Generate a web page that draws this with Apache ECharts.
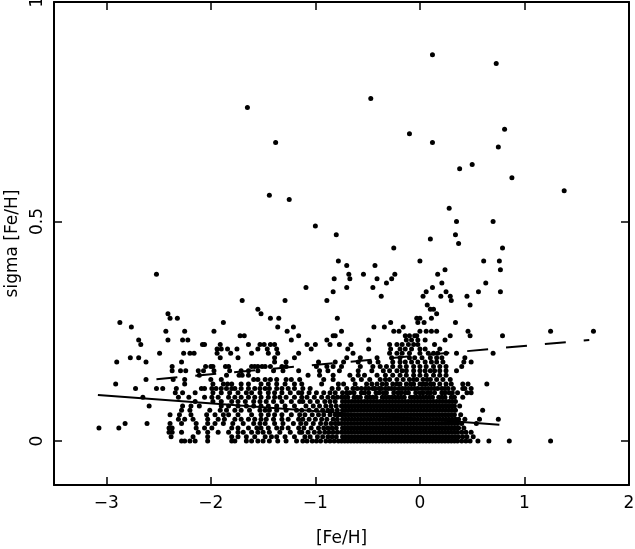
<!DOCTYPE html>
<html>
<head>
<meta charset="utf-8">
<script src="https://cdn.jsdelivr.net/npm/echarts@6/dist/echarts.min.js"></script>
<style>
html, body { margin: 0; padding: 0; background: #fff; }
#chart { width: 635px; height: 549px; }
</style>
</head>
<body>
<div id="chart"></div>
<script>
// tick labels
const xTicks = [-3, -2, -1, 0, 1, 2]
const yTicks = [0, 0.5, 1]

// sigma [Fe/H] comes in steps of 0.01, so the bulk of the stars is kept row by row:
// sigmaLevels[i] is the sigma of every [Fe/H] value in fehRows[i]
const sigmaLevels = [0.00, 0.01, 0.02, 0.03, 0.04, 0.05, 0.06, 0.07, 0.08, 0.09, 0.10,
    0.11, 0.12, 0.13, 0.14, 0.15, 0.16, 0.17, 0.18, 0.19, 0.20, 0.21, 0.22, 0.23, 0.24,
    0.25, 0.26, 0.27, 0.28, 0.29, 0.30, 0.31]

const fehRows = [
    // 0.00
    [-2.28, -2.25, -2.20, -2.15, -2.03, -1.80, -1.77, -1.66, -1.61, -1.55, -1.50, -1.44, -1.36, -1.28, -1.18,
        -1.12, -1.08, -1.03, -0.99, -0.95, -0.90, -0.86, -0.82, -0.78,
        -0.75, -0.72, -0.69, -0.66, -0.63, -0.60, -0.57, -0.54, -0.51, -0.48, -0.45, -0.42, -0.39, -0.36, -0.33,
        -0.30, -0.27, -0.24, -0.21, -0.18, -0.15, -0.12, -0.09, -0.06, -0.03, 0.00, 0.03, 0.06, 0.09, 0.12,
        0.15, 0.18, 0.21, 0.24, 0.27, 0.30, 0.33, 0.36, 0.40, 0.44, 0.48, 0.555, 0.66, 0.855, 1.25],
    // 0.01
    [-2.38, -2.17, -2.03, -1.80, -1.74, -1.66, -1.58, -1.48, -1.42, -1.37, -1.29, -1.20,
        -1.10, -1.05, -0.98, -0.93, -0.88, -0.84, -0.80,
        -0.74, -0.71, -0.68, -0.65, -0.62, -0.59, -0.56, -0.53, -0.50, -0.47, -0.44, -0.41, -0.38, -0.35, -0.32,
        -0.29, -0.26, -0.23, -0.20, -0.17, -0.14, -0.11, -0.08, -0.05, -0.02, 0.01, 0.04, 0.07, 0.10, 0.13,
        0.16, 0.19, 0.22, 0.25, 0.28, 0.31, 0.34, 0.37, 0.41, 0.45, 0.51],
    // 0.02
    [-2.40, -2.37, -2.28, -2.12, -2.03, -1.93, -1.83, -1.74, -1.69, -1.61, -1.55, -1.50, -1.44, -1.34, -1.24, -1.15,
        -1.13, -1.07, -1.01, -0.96, -0.91, -0.87, -0.83, -0.79,
        -0.75, -0.72, -0.69, -0.66, -0.63, -0.60, -0.57, -0.54, -0.51, -0.48, -0.45, -0.42, -0.39, -0.36, -0.33,
        -0.30, -0.27, -0.24, -0.21, -0.18, -0.15, -0.12, -0.09, -0.06, -0.03, 0.00, 0.03, 0.06, 0.09, 0.12,
        0.15, 0.18, 0.21, 0.24, 0.27, 0.30, 0.33, 0.36, 0.40, 0.44, 0.49],
    // 0.03
    [-3.07, -2.88, -2.40, -2.37, -2.14, -2.06, -1.99, -1.80, -1.74, -1.64, -1.56, -1.52, -1.45, -1.37, -1.32, -1.26, -1.16,
        -1.11, -1.04, -0.97, -0.92, -0.88, -0.84, -0.80,
        -0.74, -0.71, -0.68, -0.65, -0.62, -0.59, -0.56, -0.53, -0.50, -0.47, -0.44, -0.41, -0.38, -0.35, -0.32,
        -0.29, -0.26, -0.23, -0.20, -0.17, -0.14, -0.11, -0.08, -0.05, -0.02, 0.01, 0.04, 0.07, 0.10, 0.13,
        0.16, 0.19, 0.22, 0.25, 0.28, 0.31, 0.34, 0.37, 0.42],
    // 0.04
    [-2.82, -2.61, -2.39, -2.28, -2.14, -2.03, -1.96, -1.88, -1.79, -1.69, -1.59, -1.53, -1.48, -1.39, -1.31, -1.21,
        -1.14, -1.09, -1.02, -0.95, -0.90, -0.85, -0.81, -0.78,
        -0.75, -0.72, -0.69, -0.66, -0.63, -0.60, -0.57, -0.54, -0.51, -0.48, -0.45, -0.42, -0.39, -0.36, -0.33,
        -0.30, -0.27, -0.24, -0.21, -0.18, -0.15, -0.12, -0.09, -0.06, -0.03, 0.00, 0.03, 0.06, 0.09, 0.12,
        0.15, 0.18, 0.21, 0.24, 0.27, 0.30, 0.33, 0.36, 0.40, 0.54],
    // 0.05
    [-2.31, -2.25, -2.17, -2.03, -1.93, -1.87, -1.77, -1.71, -1.64, -1.58, -1.52, -1.47, -1.40, -1.32, -1.26, -1.16,
        -1.12, -1.06, -1.00, -0.94, -0.89, -0.83, -0.79,
        -0.74, -0.71, -0.68, -0.65, -0.62, -0.59, -0.56, -0.53, -0.50, -0.47, -0.44, -0.41, -0.38, -0.35, -0.32,
        -0.29, -0.26, -0.23, -0.20, -0.17, -0.14, -0.11, -0.08, -0.05, -0.02, 0.01, 0.04, 0.07, 0.10, 0.13,
        0.16, 0.19, 0.22, 0.25, 0.28, 0.31, 0.34, 0.37, 0.43, 0.57, 0.75],
    // 0.06
    [-2.39, -2.30, -2.19, -2.04, -1.96, -1.88, -1.83, -1.74, -1.61, -1.52, -1.45, -1.39, -1.32, -1.23, -1.15,
        -1.10, -1.03, -0.97, -0.92, -0.86, -0.81, -0.78,
        -0.75, -0.72, -0.69, -0.66, -0.63, -0.60, -0.57, -0.54, -0.51, -0.48, -0.45, -0.42, -0.39, -0.36, -0.33,
        -0.30, -0.27, -0.24, -0.21, -0.18, -0.15, -0.12, -0.09, -0.06, -0.03, 0.00, 0.03, 0.06, 0.09, 0.12,
        0.15, 0.18, 0.21, 0.24, 0.27, 0.30, 0.33, 0.39],
    // 0.07
    [-2.28, -2.20, -2.01, -1.91, -1.85, -1.77, -1.71, -1.63, -1.53, -1.48, -1.44, -1.37, -1.28, -1.18,
        -1.13, -1.06, -0.99, -0.93, -0.88, -0.84, -0.79,
        -0.74, -0.71, -0.68, -0.65, -0.62, -0.59, -0.56, -0.53, -0.50, -0.47, -0.44, -0.41, -0.38, -0.35, -0.32,
        -0.29, -0.26, -0.23, -0.20, -0.17, -0.14, -0.11, -0.08, -0.05, -0.02, 0.01, 0.04, 0.07, 0.10, 0.13,
        0.16, 0.19, 0.22, 0.25, 0.28, 0.31, 0.34, 0.60],
    // 0.08
    [-2.59, -2.27, -2.19, -2.11, -1.90, -1.83, -1.74, -1.66, -1.59, -1.52, -1.45, -1.37, -1.29, -1.20,
        -1.09, -1.02, -0.96, -0.90, -0.85, -0.80,
        -0.75, -0.72, -0.69, -0.66, -0.63, -0.60, -0.57, -0.54, -0.51, -0.48, -0.45, -0.42, -0.39, -0.36, -0.33,
        -0.30, -0.27, -0.24, -0.21, -0.18, -0.15, -0.12, -0.09, -0.06, -0.03, 0.00, 0.03, 0.06, 0.09, 0.12,
        0.15, 0.18, 0.21, 0.24, 0.27, 0.30, 0.33, 0.38],
    // 0.09
    [-2.15, -1.98, -1.90, -1.80, -1.74, -1.67, -1.59, -1.53, -1.47, -1.40, -1.32, -1.23, -1.15,
        -1.12, -1.05, -0.98, -0.91, -0.86, -0.81,
        -0.74, -0.71, -0.68, -0.65, -0.62, -0.59, -0.56, -0.53, -0.50, -0.47, -0.44, -0.41, -0.38, -0.35, -0.32,
        -0.29, -0.26, -0.23, -0.20, -0.17, -0.14, -0.11, -0.08, -0.05, -0.02, 0.01, 0.04, 0.07, 0.10, 0.13,
        0.16, 0.19, 0.22, 0.25, 0.28, 0.31, 0.34],
    // 0.10
    [-2.65, -2.31, -2.21, -2.06, -1.99, -1.93, -1.83, -1.77, -1.71, -1.64, -1.58, -1.52, -1.45, -1.39, -1.34, -1.28, -1.20, -1.13,
        -1.08, -1.01, -0.94, -0.88, -0.83, -0.79,
        -0.75, -0.72, -0.69, -0.63, -0.60, -0.57, -0.51, -0.48, -0.45, -0.42, -0.36, -0.33,
        -0.30, -0.27, -0.24, -0.21, -0.18, -0.15, -0.09, -0.06, -0.03, 0.00, 0.03, 0.06, 0.09, 0.12,
        0.18, 0.21, 0.24, 0.30, 0.33, 0.41],
    // 0.11
    [-2.34, -2.27, -2.15, -1.98, -1.90, -1.82, -1.74, -1.66, -1.61, -1.53, -1.45, -1.39, -1.32, -1.24, -1.16,
        -1.13, -1.06, -0.99, -0.92, -0.86, -0.81,
        -0.74, -0.70, -0.67, -0.63, -0.56, -0.53, -0.49, -0.42, -0.39, -0.35, -0.32, -0.25,
        -0.21, -0.18, -0.14, -0.11, -0.04, 0.00, 0.03, 0.07, 0.10, 0.14, 0.21, 0.24, 0.28, 0.31,
        0.36, 0.45, 0.49],
    // 0.12
    [-2.72, -2.52, -2.46, -2.33, -2.09, -2.06, -1.99, -1.95, -1.90, -1.85, -1.80, -1.77, -1.71, -1.64, -1.58, -1.53,
        -1.48, -1.44, -1.37, -1.32, -1.26, -1.20,
        -1.12, -1.05, -0.84, -0.78, -0.70, -0.64, -0.60, -0.56, -0.52, -0.49, -0.45, -0.43, -0.39, -0.37, -0.33,
        -0.30, -0.27, -0.24, -0.20, -0.17, -0.14, -0.11, -0.08, -0.05, -0.02, 0.02, 0.05, 0.08, 0.11, 0.14,
        0.17, 0.21, 0.24, 0.27, 0.32, 0.41, 0.43, 0.49],
    // 0.13
    [-2.91, -2.25, -1.98, -1.88, -1.84, -1.80, -1.71, -1.64, -1.52, -1.45, -1.37, -1.29, -1.20,
        -1.13, -0.94, -0.78, -0.73, -0.62, -0.51, -0.46, -0.41, -0.36, -0.32, -0.26, -0.22, -0.19, -0.13,
        -0.09, -0.06, 0.00, 0.03, 0.06, 0.10, 0.13, 0.19, 0.25, 0.30, 0.41, 0.46, 0.64],
    // 0.14
    [-2.62, -2.36, -2.25, -2.00, -1.90, -1.59, -1.55, -1.48, -1.43, -1.37, -1.28, -1.23, -1.15,
        -0.92, -0.83, -0.64, -0.56, -0.48, -0.38, -0.33, -0.29, -0.22, -0.16, -0.10, -0.06, -0.03,
        0.03, 0.07, 0.10, 0.16, 0.22, 0.29],
    // 0.15
    [-2.11, -1.85, -1.73, -1.70, -1.64,
        -1.07, -0.96, -0.83, -0.67, -0.59, -0.53, -0.41, -0.33, -0.26, -0.19, -0.13, -0.06, 0.00, 0.06,
        0.13, 0.19, 0.25],
    // 0.16
    [-2.37, -2.29, -2.24, -2.12, -2.07, -1.97, -1.82, -1.71, -1.64, -1.55, -1.40, -1.31, -1.16,
        -0.96, -0.88, -0.77, -0.59, -0.46, -0.35, -0.29, -0.22, -0.17, -0.13, -0.06, 0.00, 0.05, 0.10,
        0.14, 0.19, 0.25, 0.35],
    // 0.17
    [-2.37, -2.05, -2.00, -1.98, -1.86, -1.83, -1.61, -1.58, -1.55, -1.51, -1.48, -1.43, -1.32, -1.28,
        -0.99, -0.89, -0.83, -0.75, -0.57, -0.45, -0.38, -0.32, -0.26, -0.19, -0.13, -0.06, 0.00, 0.06,
        0.13, 0.19, 0.25, 0.40],
    // 0.18
    [-2.90, -2.62, -2.28, -1.39, -1.28,
        -0.97, -0.81, -0.73, -0.59, -0.48, -0.40, -0.26, -0.19, -0.14, -0.08, -0.02, 0.05, 0.11, 0.16,
        0.22, 0.42, 0.49],
    // 0.19
    [-2.77, -2.69, -1.91, -1.74, -1.39, -1.20,
        -0.70, -0.57, -0.41, -0.27, -0.19, -0.10, -0.05, 0.02, 0.10, 0.16, 0.21, 0.43],
    // 0.20
    [-2.49, -2.26, -2.20, -2.16, -1.94, -1.81, -1.61, -1.45, -1.36, -1.16,
        -0.64, -0.29, -0.22, -0.17, -0.10, 0.00, 0.08, 0.13, 0.17, 0.25, 0.35, 0.70],
    // 0.21
    [-1.94, -1.90, -1.84, -1.75, -1.55, -1.46, -1.37,
        -1.04, -0.69, -0.49, -0.28, -0.19, -0.14, -0.08, 0.00, 0.05, 0.19],
    // 0.22
    [-2.67, -2.08, -2.06, -1.91, -1.64, -1.53, -1.49, -1.43, -1.39,
        -1.08, -1.00, -0.86, -0.77, -0.66, -0.29, -0.22, -0.17, -0.11, -0.06, -0.02, 0.14],
    // 0.23
    [-2.69, -2.41, -2.27, -2.22, -1.23, -0.89, -0.49, -0.13, -0.08, -0.02, 0.05, 0.24],
    // 0.24
    [-1.72, -1.68, -1.16, -0.83, -0.81, -0.14, -0.10, -0.05, -0.03, 0.29, 0.48, 0.79],
    // 0.25
    [-2.43, -2.25, -1.97, -1.27, -0.75, -0.25, -0.20, 0.00, 0.06, 0.11, 0.16, 0.46, 1.25, 1.66],
    // 0.26
    [-2.76, -1.36, -1.21, -0.44, -0.34, -0.16],
    // 0.27
    [-2.87, -1.88, -0.28, -0.02, 0.04, 0.34],
    // 0.28
    [-2.39, -2.32, -1.43, -1.35, -0.79, -0.03, 0.00, 0.11],
    // 0.29
    [-2.41, -1.52, 0.16],
    // 0.30
    [-1.55, 0.10, 0.13],
    // 0.31
    [0.07, 0.48]
]

// the sparse stars above the band
const outlierFeH = [-1.70, -1.29, -0.89, 0.30, -0.37, 0.03, 0.20, 0.29, 0.45, -0.83, 0.06, 0.25, 0.56, 0.77,
    -1.09, -0.70, -0.45, 0.12, -0.32, 0.21, 0.63, -0.82, -0.67, -0.41, -0.27, -0.68, -0.54, -0.24, 0.17,
    -2.52, 0.24, 0.77, -0.70, -0.43, 0.00, -0.78, 0.61, 0.76, -0.25, 0.79, 0.37, 0.10, -0.80, 0.34, -1.00,
    0.35, 0.70, 0.28, -1.25, -1.44, 1.38, 0.88, 0.38, 0.50, -1.38, 0.12, 0.75, -0.10, 0.81, -1.65, -0.47,
    0.73, 0.12]
const outlierSigma = [0.32, 0.32, 0.32, 0.32, 0.33, 0.33, 0.33, 0.33, 0.33, 0.34, 0.34, 0.34, 0.34, 0.34,
    0.35, 0.35, 0.35, 0.35, 0.36, 0.36, 0.36, 0.37, 0.37, 0.37, 0.37, 0.38, 0.38, 0.38, 0.38,
    0.38, 0.39, 0.39, 0.40, 0.40, 0.41, 0.41, 0.41, 0.41, 0.44, 0.44, 0.45, 0.46, 0.47, 0.47, 0.49,
    0.50, 0.50, 0.53, 0.55, 0.56, 0.57, 0.60, 0.62, 0.63, 0.68, 0.68, 0.67, 0.70, 0.71, 0.76, 0.78,
    0.86, 0.88]

// the two fitted lines, end points only
const solidFitFeH = [-3.08, 0.76]
const solidFitSigma = [0.105, 0.037]
const dashFitFeH = [-2.52, 1.62]
const dashFitSigma = [0.141, 0.230]

const font = 'DejaVu Sans'
const minus = v => String(v).replace('-', '\u2212')

const points = []
for (let i = 0; i < sigmaLevels.length; i++) {
    for (let j = 0; j < fehRows[i].length; j++) {
        points.push([fehRows[i][j], sigmaLevels[i]])
    }
}
for (let i = 0; i < outlierFeH.length; i++) {
    points.push([outlierFeH[i], outlierSigma[i]])
}

function frameAxis(pos, ticks, withLabels, extra) {
    return Object.assign({
        type: 'value',
        position: pos,
        axisLine: { show: true, onZero: false, lineStyle: { color: '#000', width: 2 } },
        axisTick: { show: true, inside: true, length: 8, customValues: ticks, lineStyle: { color: '#000', width: 1.5 } },
        axisLabel: {
            show: withLabels,
            customValues: ticks,
            formatter: minus,
            color: '#000',
            fontSize: 17,
            fontFamily: font
        },
        splitLine: { show: false }
    }, extra)
}

const chart = echarts.init(document.getElementById('chart'))
const option = {
    animation: false,
    grid: { left: 54, right: 6, top: 2, bottom: 64, containLabel: false, outerBoundsMode: 'none' },
    xAxis: [
        frameAxis('bottom', xTicks, true, {
            min: -3.5, max: 2,
            name: '[Fe/H]', nameLocation: 'middle', nameGap: 45,
            nameTextStyle: { color: '#000', fontSize: 17, fontFamily: font }
        }),
        frameAxis('top', xTicks, false, { min: -3.5, max: 2 })
    ],
    yAxis: [
        frameAxis('left', yTicks, true, {
            min: -0.1, max: 1,
            name: 'sigma [Fe/H]', nameLocation: 'middle', nameGap: 29,
            nameTextStyle: { color: '#000', fontSize: 17, fontFamily: font }
        }),
        frameAxis('right', yTicks, false, { min: -0.1, max: 1 })
    ],
    series: [
        {
            type: 'scatter',
            data: points,
            symbolSize: 5,
            itemStyle: { color: '#000', opacity: 1 },
            silent: true
        },
        {
            type: 'line',
            data: [[solidFitFeH[0], solidFitSigma[0]], [solidFitFeH[1], solidFitSigma[1]]],
            showSymbol: false,
            lineStyle: { color: '#000', width: 2 },
            silent: true
        },
        {
            type: 'line',
            data: [[dashFitFeH[0], dashFitSigma[0]], [dashFitFeH[1], dashFitSigma[1]]],
            showSymbol: false,
            lineStyle: { color: '#000', width: 2, type: [21, 18] },
            silent: true
        }
    ]
}
option.yAxis[0].axisLabel.rotate = 90
option.yAxis[0].axisLabel.margin = 8
option.xAxis[0].axisLabel.margin = 10
chart.setOption(option)
</script>
</body>
</html>
